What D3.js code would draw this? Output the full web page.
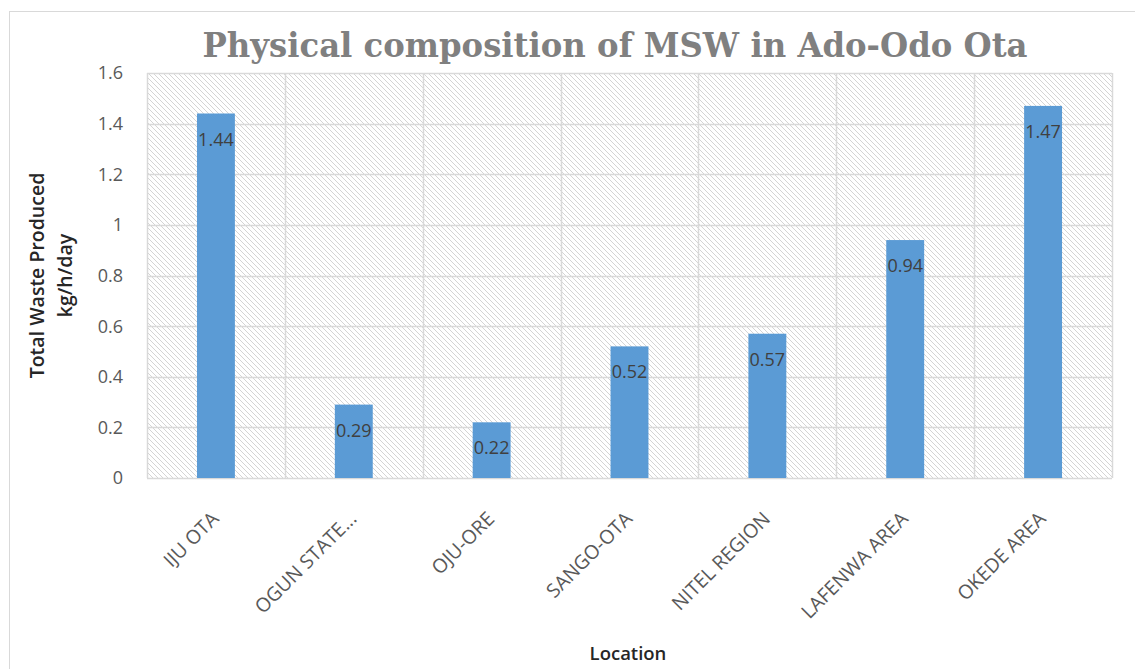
<!DOCTYPE html>
<html>
<head>
<meta charset="UTF-8">
<title>Physical composition of MSW in Ado-Odo Ota</title>
<style>
  body { margin: 0; background: white; overflow: hidden; }
  text { font-family: "Open Sans", "Noto Sans", sans-serif; }
</style>
<script src="https://cdnjs.cloudflare.com/ajax/libs/d3/7.8.5/d3.min.js"></script>
</head>
<body>
<div id="chart"></div>
<script>
// data
const locations = ["IJU OTA", "OGUN STATE...", "OJU-ORE", "SANGO-OTA", "NITEL REGION", "LAFENWA AREA", "OKEDE AREA"];
const waste = [1.44, 0.29, 0.22, 0.52, 0.57, 0.94, 1.47];
const yTicks = [0, 0.2, 0.4, 0.6, 0.8, 1, 1.2, 1.4, 1.6];

const width = 1135, height = 669;
const plot = {left: 147, right: 1112, top: 73, bottom: 478};

const svg = d3.select("#chart").append("svg")
    .attr("width", width)
    .attr("height", height);

// hatch pattern for plot background
const defs = svg.append("defs");
defs.append("pattern")
    .attr("id", "hatch")
    .attr("patternUnits", "userSpaceOnUse")
    .attr("width", 5).attr("height", 5)
  .append("path")
    .attr("d", "M-1,-1 L6,6 M4,-1 L6,1 M-1,4 L1,6")
    .attr("stroke", "#d4d4d4")
    .attr("stroke-width", 1);

// outer chart frame
svg.append("rect")
    .attr("x", 9.5).attr("y", 11.5)
    .attr("width", 1140).attr("height", 700)
    .attr("fill", "white")
    .attr("stroke", "#d9d9d9");

const x = d3.scaleBand()
    .domain(locations)
    .range([plot.left, plot.right])
    .paddingInner(0.725)
    .paddingOuter(0.3625);

const y = d3.scaleLinear()
    .domain([0, 1.6])
    .range([plot.bottom, plot.top]);

svg.append("rect")
    .attr("x", plot.left).attr("y", plot.top)
    .attr("width", plot.right - plot.left)
    .attr("height", plot.bottom - plot.top)
    .attr("fill", "url(#hatch)");

// horizontal gridlines
svg.append("g")
    .selectAll("line")
    .data(yTicks)
    .join("line")
    .attr("x1", plot.left).attr("x2", plot.right)
    .attr("y1", d => Math.round(y(d)) + 0.5)
    .attr("y2", d => Math.round(y(d)) + 0.5)
    .attr("stroke", "#d9d9d9")
    .attr("stroke-width", 1.5);

// vertical gridlines at category boundaries
const step = x.step();
const bounds = d3.range(locations.length + 1).map(i => plot.left + i * step);
svg.append("g")
    .selectAll("line")
    .data(bounds)
    .join("line")
    .attr("x1", d => Math.round(d) + 0.5).attr("x2", d => Math.round(d) + 0.5)
    .attr("y1", plot.top).attr("y2", plot.bottom)
    .attr("stroke", "#d9d9d9")
    .attr("stroke-width", 1.5);

// y tick labels
svg.append("g")
    .selectAll("text")
    .data(yTicks)
    .join("text")
    .attr("x", 123)
    .attr("y", d => y(d))
    .attr("dy", "0.36em")
    .attr("text-anchor", "end")
    .attr("font-size", 18)
    .attr("fill", "#595959")
    .text(d => d);

// bars
svg.append("g")
    .selectAll("rect")
    .data(waste)
    .join("rect")
    .attr("x", (d, i) => x(locations[i]))
    .attr("y", d => y(d))
    .attr("width", x.bandwidth())
    .attr("height", d => y(0) - y(d))
    .attr("fill", "#5b9bd5");

// data labels
svg.append("g")
    .selectAll("text")
    .data(waste)
    .join("text")
    .attr("x", (d, i) => x(locations[i]) + x.bandwidth() / 2)
    .attr("y", d => y(d) + 32)
    .attr("text-anchor", "middle")
    .attr("font-size", 18)
    .attr("fill", "#404040")
    .text(d => d.toFixed(2));

// x category labels, rotated
svg.append("g")
    .selectAll("text")
    .data(locations)
    .join("text")
    .attr("transform", d => `translate(${x(d) + x.bandwidth() / 2 + 4},${520}) rotate(-45)`)
    .attr("text-anchor", "end")
    .attr("font-size", 19.5)
    .attr("fill", "#595959")
    .text(d => d);

// title
svg.append("text")
    .attr("x", 615).attr("y", 57)
    .attr("text-anchor", "middle")
    .style("font-family", "'DejaVu Serif', 'Liberation Serif', serif")
    .attr("font-weight", "bold")
    .attr("font-size", 34)
    .attr("fill", "#808080")
    .attr("textLength", 825)
    .attr("lengthAdjust", "spacingAndGlyphs")
    .text("Physical composition of MSW in Ado-Odo Ota");

// y axis title
const yTitle = svg.append("text")
    .attr("transform", `translate(0,${(plot.top + plot.bottom) / 2}) rotate(-90)`)
    .attr("text-anchor", "middle")
    .attr("font-size", 19.5)
    .attr("font-weight", 600)
    .attr("fill", "#262626");
yTitle.append("tspan").attr("x", 0).attr("y", 44).text("Total Waste Produced");
yTitle.append("tspan").attr("x", 0).attr("y", 72).text("kg/h/day");

// x axis title
svg.append("text")
    .attr("x", 628).attr("y", 660)
    .attr("text-anchor", "middle")
    .attr("font-size", 18.5)
    .attr("font-weight", 600)
    .attr("fill", "#262626")
    .text("Location");
</script>
</body>
</html>
